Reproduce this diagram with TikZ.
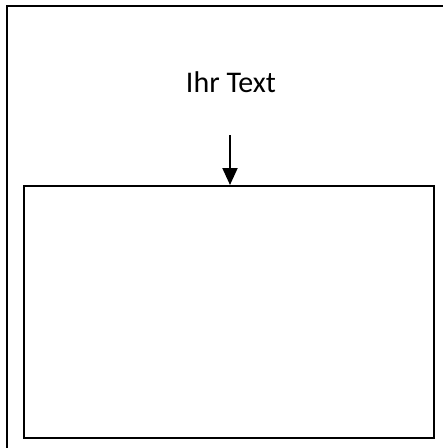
\documentclass[tikz,border=0pt]{standalone}
\usepackage{fontspec}
\setmainfont{Carlito}
\usetikzlibrary{positioning}
\usetikzlibrary {arrows.meta}

\begin{document}
\begin{tikzpicture}[x=1pt, y=-1pt, line width=2pt]
        \useasboundingbox (0,0) rectangle (443,448);
        \clip (0,0) rectangle (443,448);
        \node[draw, anchor=north west, minimum width=460pt, minimum height=470pt, inner sep=0pt] (frame) at (6,5) {};
        \node[draw, anchor=north west, minimum width=410pt, minimum height=252pt, inner sep=0pt] (box) at (23,185) {};
        \node[font=\fontsize{30}{36}\selectfont] (label) at (231,82) {Ihr Text};
        \coordinate (start) at (230,135);

        \draw[-{Triangle[length=17pt, width=15pt]}, line width=2pt] (start) -- (start |- box.north);

      \end{tikzpicture}
\end{document}
